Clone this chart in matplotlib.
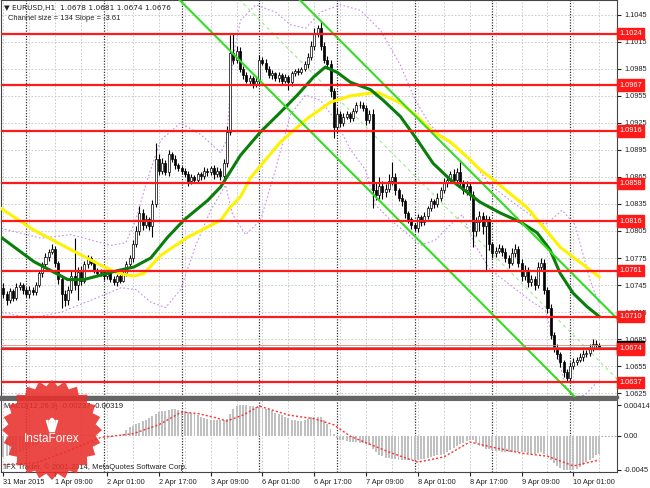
import numpy as np
import matplotlib.pyplot as plt
from matplotlib.patches import Polygon, Circle
import matplotlib.transforms as mtransforms

plt.rcParams['font.family'] = ['Liberation Sans', 'DejaVu Sans']

# ---- hourly candles EURUSD H1, bar 0 = 31 Mar 17:00 ----
first_open = 1.0742
closes = [
    1.0735, 1.0728, 1.0738, 1.0731, 1.0743, 1.0745, 1.0740, 1.0735, 1.0740, 1.0737,
    1.0745, 1.0758, 1.0768, 1.0776, 1.0782, 1.0785, 1.0770, 1.0752, 1.0735, 1.0728,
    1.0740, 1.0755, 1.0745, 1.0760, 1.0750, 1.0768, 1.0775, 1.0770, 1.0762, 1.0758,
    1.0760, 1.0755, 1.0760, 1.0752, 1.0748, 1.0755, 1.0750, 1.0758, 1.0768, 1.0775,
    1.0790, 1.0805, 1.0825, 1.0812, 1.0818, 1.0810, 1.0835, 1.0885, 1.0872, 1.0880,
    1.0870, 1.0890, 1.0885, 1.0878, 1.0875, 1.0872, 1.0868, 1.0860, 1.0865, 1.0862,
    1.0868, 1.0866, 1.0872, 1.0870, 1.0875, 1.0868, 1.0872, 1.0866, 1.0880, 1.0915,
    1.1003, 1.0995, 1.1005, 1.0985, 1.0978, 1.0972, 1.0975, 1.0968, 1.0972, 1.0995,
    1.0992, 1.0985, 1.0978, 1.0980, 1.0975, 1.0978, 1.0972, 1.0976, 1.0970, 1.0980,
    1.0983, 1.0982, 1.0985, 1.0990, 1.0998, 1.1010, 1.1025, 1.1030, 1.1010, 1.0995,
    1.0990, 1.0960, 1.0920, 1.0935, 1.0925, 1.0932, 1.0935, 1.0930, 1.0938, 1.0945,
    1.0945, 1.0942, 1.0928, 1.0935, 1.0850, 1.0845, 1.0855, 1.0848, 1.0852, 1.0860,
    1.0865, 1.0850, 1.0842, 1.0838, 1.0825, 1.0818, 1.0812, 1.0808, 1.0820, 1.0815,
    1.0822, 1.0830, 1.0838, 1.0835, 1.0842, 1.0850, 1.0858, 1.0862, 1.0868, 1.0862,
    1.0870, 1.0858, 1.0850, 1.0855, 1.0845, 1.0805, 1.0815, 1.0822, 1.0810, 1.0818,
    1.0790, 1.0780, 1.0783, 1.0786, 1.0782, 1.0775, 1.0770, 1.0780, 1.0785, 1.0770,
    1.0755, 1.0762, 1.0748, 1.0752, 1.0745, 1.0765, 1.0770, 1.0740, 1.0720, 1.0690,
    1.0675, 1.0668, 1.0660, 1.0648, 1.0642, 1.0655, 1.0660, 1.0662, 1.0665, 1.0668,
    1.0670, 1.0675, 1.0680, 1.0678, 1.0676]
# wick lengths in pips above / below the body
up_wick = [
    5, 3, 4, 3, 4, 3, 2, 3, 4, 3,   3, 4, 3, 4, 3, 5, 3, 2, 3, 4,
    4, 6, 42, 5, 6, 4, 3, 2, 3, 2,  3, 2, 3, 2, 3, 2, 3, 3, 4, 3,
    5, 6, 8, 4, 5, 3, 4, 18, 5, 6,  4, 5, 3, 4, 3, 2, 3, 4, 3, 2,
    3, 2, 4, 3, 2, 3, 4, 3, 5, 6,   20, 22, 5, 4, 3, 4, 3, 2, 4, 5,
    3, 4, 3, 4, 2, 3, 2, 3, 2, 3,   2, 3, 2, 4, 5, 6, 5, 4, 8, 5,
    4, 5, 4, 6, 3, 4, 3, 2, 4, 3,   4, 3, 3, 4, 5, 8, 10, 6, 5, 8,
    17, 4, 3, 4, 3, 2, 3, 2, 4, 3,  4, 3, 4, 3, 5, 4, 6, 5, 4, 6,
    5, 14, 4, 5, 3, 4, 6, 5, 4, 5,  4, 3, 4, 5, 3, 4, 3, 6, 5, 3,
    4, 5, 3, 4, 3, 6, 5, 4, 3, 4,   3, 4, 3, 2, 4, 5, 4, 3, 4, 5,
    3, 4, 5, 4, 3]
dn_wick = [
    4, 5, 3, 4, 3, 4, 5, 3, 4, 3,   3, 2, 4, 3, 4, 3, 5, 6, 16, 6,
    5, 4, 6, 17, 5, 3, 4, 3, 4, 3,  3, 4, 3, 4, 3, 4, 3, 2, 3, 3,
    4, 3, 5, 6, 4, 4, 12, 3, 5, 4,  3, 4, 3, 4, 3, 4, 3, 5, 3, 4,
    3, 4, 3, 4, 3, 5, 3, 4, 3, 4,   4, 5, 4, 3, 4, 3, 5, 4, 3, 4,
    3, 4, 3, 4, 3, 5, 4, 3, 8, 4,   3, 4, 3, 2, 4, 3, 4, 5, 4, 3,
    5, 6, 12, 6, 5, 4, 3, 4, 3, 2,  3, 4, 5, 3, 19, 6, 5, 7, 5, 4,
    4, 5, 4, 5, 6, 4, 5, 3, 4, 5,   3, 4, 3, 4, 3, 4, 3, 4, 3, 4,
    4, 5, 4, 5, 6, 18, 6, 10, 8, 48, 6, 5, 4, 3, 5, 4, 6, 3, 4, 5,
    6, 4, 5, 4, 5, 3, 4, 5, 6, 5,   4, 5, 6, 5, 5, 4, 3, 4, 3, 4,
    3, 4, 3, 4, 2]

# moving averages (bar, price)
ma_green_bar = [-0.7, 9.4, 19.9, 24.8, 30.1, 35.3, 40.3, 45.5, 50.7, 55.7, 63.1, 67.1,
                73.2, 79.4, 85.6, 90.8, 95.8, 99.4, 103.1, 107.2, 113.3, 117.3, 122.6,
                127.8, 132.7, 138.0, 143.2, 147.2, 153.4, 159.6, 164.8, 168.8, 171.9,
                175.9, 180.2, 184.0]
ma_green_val = [1.0798, 1.0771, 1.0751, 1.0751, 1.0756, 1.0761, 1.0765, 1.0775, 1.0798,
                1.0817, 1.0839, 1.0854, 1.0889, 1.0915, 1.0937, 1.0956, 1.0976, 1.0987,
                1.0981, 1.0970, 1.0962, 1.0950, 1.0932, 1.0906, 1.0880, 1.0862, 1.0848,
                1.0837, 1.0825, 1.0815, 1.0803, 1.0784, 1.0758, 1.0736, 1.0721, 1.0710]
ma_yellow_bar = [-0.7, 9.4, 19.9, 30.1, 35.3, 40.3, 43.4, 48.6, 56.9, 67.1, 70.2, 73.2,
                 76.3, 85.6, 93.9, 101.0, 107.2, 115.5, 122.6, 127.8, 132.7, 138.0,
                 143.2, 147.2, 151.2, 161.7, 171.9, 184.0]
ma_yellow_val = [1.0830, 1.0806, 1.0786, 1.0767, 1.0758, 1.0755, 1.0758, 1.0778, 1.0798,
                 1.0817, 1.0832, 1.0843, 1.0864, 1.0904, 1.0930, 1.0948, 1.0955, 1.0959,
                 1.0947, 1.0932, 1.0915, 1.0904, 1.0887, 1.0873, 1.0862, 1.0831, 1.0787,
                 1.0754]

# bands (violet dotted)
band_up_bar = [-0.7, 11.6, 20.8, 33.2, 37.8, 40.9, 43.9, 48.6, 54.7, 60.9, 67.1, 68.9,
               70.8, 73.2, 77.9, 84.0, 88.6, 93.3, 97.9, 104.1, 110.2, 116.4, 122.6,
               127.2, 131.8, 136.4, 141.1, 145.7, 150.3, 156.5, 162.6, 167.3, 172.5,
               176.5, 181.1, 184.0]
band_up_val = [1.0808, 1.0797, 1.0801, 1.0789, 1.0792, 1.0817, 1.0856, 1.0906, 1.0925,
               1.0912, 1.0892, 1.0906, 1.0995, 1.1039, 1.1056, 1.1048, 1.1034, 1.1030,
               1.1048, 1.1056, 1.1050, 1.1028, 1.0989, 1.0950, 1.0923, 1.0906, 1.0895,
               1.0878, 1.0856, 1.0839, 1.0823, 1.0812, 1.0828, 1.0812, 1.0751, 1.0723]
band_dn_bar = [-0.7, 8.5, 17.8, 27.0, 36.3, 40.9, 45.5, 50.1, 54.7, 59.4, 64.0, 68.6,
               70.8, 74.8, 79.4, 84.0, 88.6, 93.3, 97.9, 102.5, 107.2, 111.8, 114.9,
               119.5, 124.1, 128.7, 133.4, 138.0, 141.7, 145.7, 150.3, 156.5, 162.6,
               167.3, 170.4, 173.4, 176.5, 179.6, 184.0]
band_dn_val = [1.0715, 1.0708, 1.0715, 1.0728, 1.0742, 1.0740, 1.0726, 1.0720, 1.0740,
               1.0789, 1.0828, 1.0856, 1.0823, 1.0801, 1.0817, 1.0873, 1.0934, 1.0956,
               1.0950, 1.0928, 1.0895, 1.0873, 1.0834, 1.0817, 1.0804, 1.0789, 1.0795,
               1.0812, 1.0823, 1.0789, 1.0762, 1.0745, 1.0728, 1.0717, 1.0679, 1.0634,
               1.0620, 1.0623, 1.0640]

# equidistant channel: lower line anchor, slope (pips/bar), size (pips)
chan_bar = 141.1
chan_low = 1.07484
chan_slope = -3.61
chan_size = 134

levels = [1.1024, 1.0967, 1.0916, 1.0858, 1.0816, 1.0761, 1.0710, 1.0674, 1.0637]
bid, ask = 1.0676, 1.0678
price_ticks = [1.1045, 1.1015, 1.0985, 1.0955, 1.0925, 1.0895, 1.0865, 1.0835, 1.0805,
               1.0775, 1.0745, 1.0715, 1.0685, 1.0655, 1.0625]

# MACD(12,26,9) main values, x 1e-3
macd = [
    -2.8, -2.7, -2.6, -2.5, -2.4, -2.2, -2.0, -1.8, -1.6, -1.4,
    -1.2, -1.0, -0.7, -0.4, -0.1, 0.1, 0.2, 0.1, -0.1, -0.3,
    -0.4, -0.3, -0.2, -0.1, 0.0, 0.1, 0.2, 0.2, 0.1, 0.1,
    0.0, 0.0, 0.0, -0.1, -0.1, 0.0, 0.1, 0.3, 0.8, 1.2,
    1.4, 1.6, 1.8, 2.0, 2.2, 2.4, 2.7, 3.0, 3.2, 3.3,
    3.4, 3.5, 3.6, 3.6, 3.5, 3.4, 3.3, 3.2, 3.1, 3.0,
    2.8, 2.6, 2.4, 2.3, 2.2, 2.2, 2.2, 2.1, 2.1, 2.3,
    3.0, 3.6, 4.0, 4.1, 4.1, 4.1, 4.0, 4.0, 3.9, 3.9,
    3.8, 3.6, 3.5, 3.3, 3.1, 2.9, 2.8, 2.6, 2.4, 2.2,
    2.1, 2.0, 2.0, 2.1, 2.3, 2.5, 2.6, 2.6, 2.5, 2.2,
    1.6, 1.0, 0.3, -0.3, -0.5, -0.6, -0.7, -0.8, -0.8, -0.8,
    -0.9, -1.0, -1.1, -1.2, -1.8, -2.2, -2.5, -2.7, -2.9, -3.0,
    -3.1, -3.1, -3.2, -3.2, -3.2, -3.2, -3.2, -3.2, -3.2, -3.1,
    -3.1, -3.0, -2.8, -2.7, -2.6, -2.5, -2.4, -2.2, -1.9, -1.6,
    -1.3, -1.1, -0.9, -0.7, -0.5, -0.6, -1.0, -1.3, -1.5, -1.7,
    -1.8, -1.9, -2.0, -2.0, -2.1, -2.1, -2.2, -2.1, -2.1, -2.2,
    -2.2, -2.2, -2.3, -2.4, -2.4, -2.3, -2.2, -2.4, -2.8, -3.2,
    -3.6, -4.0, -4.3, -4.5, -4.6, -4.6, -4.5, -4.4, -4.2, -3.9,
    -3.5, -3.2, -2.9, -2.6, -2.4]
signal_bar = [0, 10, 20, 30, 40, 48, 55, 60, 65, 69, 74, 79, 88, 96, 102, 107, 112,
              120, 128, 136, 144, 151, 160, 168, 176, 184]
signal_val = [-3.8, -3.6, -2.0, -0.2, 0.3, 1.5, 3.2, 3.0, 2.5, 2.0, 2.8, 4.0, 2.8, 2.3,
              1.5, 0.0, -0.9, -2.3, -3.5, -2.8, -0.8, -1.5, -2.3, -2.7, -4.0, -3.2]

date_labels = ['31 Mar 2015', '1 Apr 09:00', '2 Apr 01:00', '2 Apr 17:00', '3 Apr 09:00',
               '6 Apr 01:00', '6 Apr 17:00', '7 Apr 09:00', '8 Apr 01:00', '8 Apr 17:00',
               '9 Apr 09:00', '10 Apr 01:00']

# ---------------------------------------------------------------
n = len(closes)
idx = np.arange(n)
c = np.array(closes)
o = np.concatenate([[first_open], c[:-1]])
hi = np.maximum(o, c) + np.array(up_wick) * 1e-4
lo = np.minimum(o, c) - np.array(dn_wick) * 1e-4

W, H = 650, 488
FS = 5.3
fig = plt.figure(figsize=(6.5, 4.88), dpi=100)
ax = fig.add_axes([1 / W, (H - 397) / H, 616 / W, 397 / H])
ax2 = fig.add_axes([1 / W, (H - 472) / H, 616 / W, 72 / H])

xlim = (-0.74, 189.46)
for a in (ax, ax2):
    a.set_xlim(*xlim)
    for v in range(0, 190, 8):
        a.axvline(v, color='#c4c4c4', ls=(0, (2, 2)), lw=0.6, zorder=0)
    for v in range(7, 190, 24):
        a.axvline(v, color='#333333', ls=(0, (1, 1.2)), lw=0.9, zorder=0)
    for s in a.spines.values():
        s.set_color('#444444')
        s.set_linewidth(0.8)

ax.set_ylim(1.06207, 1.10614)
for t in price_ticks:
    ax.axhline(t, color='#c4c4c4', ls=(0, (2, 2)), lw=0.6, zorder=0)

# candles
bull = c >= o
ax.vlines(idx, lo, hi, color='black', lw=0.8, zorder=3)
body = np.maximum(np.abs(c - o), 0.00003)
ax.bar(idx[bull], body[bull], bottom=np.minimum(o, c)[bull], width=0.62,
       color='white', edgecolor='black', linewidth=0.5, zorder=4)
ax.bar(idx[~bull], body[~bull], bottom=np.minimum(o, c)[~bull], width=0.62,
       color='black', edgecolor='black', linewidth=0.5, zorder=4)

# bands & moving averages
ax.plot(band_up_bar, band_up_val, color='#c58cf0', ls=(0, (1.5, 2)), lw=0.8, zorder=2)
ax.plot(band_dn_bar, band_dn_val, color='#c58cf0', ls=(0, (1.5, 2)), lw=0.8, zorder=2)
ax.plot(ma_yellow_bar, ma_yellow_val, color='#fff200', lw=2.2, zorder=5)
ax.plot(ma_green_bar, ma_green_val, color='#0a7d0a', lw=2.2, zorder=5)

# channel
cx = np.array(xlim)
low_line = chan_low + chan_slope * 1e-4 * (cx - chan_bar)
ax.plot(cx, low_line, color='#33dd22', lw=1.5, zorder=6)
ax.plot(cx, low_line + chan_size * 1e-4, color='#33dd22', lw=1.5, zorder=6)
ax.plot(cx, low_line + chan_size * 0.5e-4, color='#99ee88', ls=(0, (3, 3)), lw=0.8, zorder=2)

# horizontal levels
blend = mtransforms.blended_transform_factory(ax.transAxes, ax.transData)
ax.axhline(ask, color='#f08070', lw=0.6, zorder=6)
ax.axhline(bid, color='#777777', lw=0.6, zorder=6)
for lv in levels:
    ax.axhline(lv, color='#ff1a1a', lw=1.6, zorder=6)
ax.text(1.004, bid, '%.4f' % bid, transform=blend, color='white', fontsize=FS,
        va='center', ha='left', clip_on=False, zorder=9,
        bbox=dict(boxstyle='square,pad=0.3', fc='black', ec='black'))
for lv in levels:
    ax.text(1.004, lv, '%.4f' % lv, transform=blend, color='white', fontsize=FS,
            va='center', ha='left', clip_on=False, zorder=10,
            bbox=dict(boxstyle='square,pad=0.3', fc='#ff1a1a', ec='#ff1a1a'))

ax.yaxis.tick_right()
ax.set_yticks(price_ticks)
ax.set_yticklabels(['%.4f' % t for t in price_ticks])
ax.tick_params(axis='y', labelsize=FS, length=3, pad=2, colors='#222222')
ax.set_xticks([])
ax.spines['bottom'].set_linewidth(2.5)
ax.spines['bottom'].set_color('#666666')

# MACD panel
ax2.set_ylim(-0.00481, 0.00481)
ax2.bar(idx, np.array(macd) * 1e-3, width=0.6, color='#c0c0c0', zorder=2)
ax2.plot(signal_bar, np.array(signal_val) * 1e-3, color='#ff3030', ls=(0, (1.5, 1.5)),
         lw=1.0, zorder=3)
ax2.plot([184.5, 189.4], [0, 0], color='#999999', ls=(0, (2, 2)), lw=0.6)
ax2.yaxis.tick_right()
ax2.set_yticks([0.00414, 0.0, -0.0045])
ax2.set_yticklabels(['0.00414', '0.00', '-0.0045'])
ax2.tick_params(axis='y', labelsize=FS, length=3, pad=2, colors='#222222')
ax2.set_xticks(np.arange(0, 16 * len(date_labels), 16))
ax2.set_xticklabels(date_labels, ha='left')
ax2.tick_params(axis='x', labelsize=FS, length=3, pad=2, colors='#222222')
ax2.spines['top'].set_linewidth(1.5)
ax2.spines['top'].set_color('#666666')

# header texts
def ftext(x, y, s, fs=5.6, **kw):
    fig.text(x / W, 1 - y / H, s, va='center', ha='left', fontsize=fs, color='#222222', **kw)

ftext(4, 8, '\u25bc EURUSD,H1  1.0678 1.0681 1.0674 1.0676', fs=5.3, family=['DejaVu Sans'])
ftext(8, 19, 'Channel size = 134 Slope = -3.61', fs=5.4)
ftext(4, 406, 'MACD(12,26,9) -0.00237 -0.00319')
ftext(4, 467, 'IFX Trader, \u00a9 2001-2014, MetaQuotes Software Corp.', fs=5.5)

# InstaForex watermark badge
inch = fig.dpi_scale_trans
cxp, cyp = 52 / 100, (H - 430) / 100
ang = np.linspace(0, 2 * np.pi, 49)[:-1]
rad = np.where(np.arange(48) % 2 == 0, 0.50, 0.44)
pts = np.column_stack([cxp + rad * np.cos(ang), cyp + rad * np.sin(ang)])
fig.patches.append(Polygon(pts, closed=True, transform=inch, fc='#e8302c', ec='none',
                           alpha=0.88, zorder=20))
fig.text(cxp, cyp - 0.09, 'InstaForex', transform=inch, color='white', fontsize=8.5,
         ha='center', va='center', zorder=21)
for dx in (-0.05, -0.025, 0.0, 0.025, 0.05):
    fig.lines.append(plt.Line2D([cxp + dx * 0.4, cxp + dx], [cyp - 0.01, cyp + 0.09],
                                transform=inch, color='white', lw=1.6, zorder=21))
fig.patches.append(Circle((cxp, cyp + 0.1), 0.022, transform=inch, fc='white',
                          ec='none', zorder=21))

fig.savefig('out.png', dpi=100, facecolor='white')
